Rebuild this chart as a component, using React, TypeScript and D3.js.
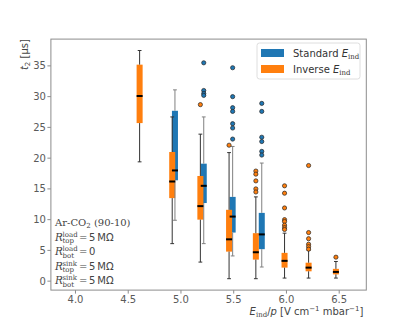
import React from "react";
import * as d3 from "d3";

// ---- data ----
const inversePositions = [4.608, 4.917, 5.184, 5.456, 5.71, 5.982, 6.21, 6.469];
// [whiskerLow, q1, median, q3, whiskerHigh]
const inverseStats = [
  [19.4, 25.7, 30.1, 35.2, 37.5],
  [6.1, 13.5, 16.2, 21.0, 26.7],
  [3.1, 10.0, 12.2, 17.1, 23.9],
  [0.4, 4.8, 6.8, 11.6, 20.9],
  [0.4, 3.5, 4.7, 7.8, 13.7],
  [0.5, 2.2, 3.3, 4.6, 7.8],
  [0.5, 1.6, 2.2, 3.0, 5.0],
  [0.5, 1.1, 1.5, 2.0, 3.2],
];
const inverseFliers = [
  [],
  [],
  [28.7],
  [22.1],
  [17.9, 17.4, 16.3, 15.0, 14.5],
  [15.5, 14.3, 11.9, 10.0, 9.7, 9.1, 8.7, 8.4],
  [18.8, 7.9, 6.9, 6.0, 5.6, 5.2],
  [3.9],
];

const standardPositions = [4.943, 5.216, 5.49, 5.766];
const standardStats = [
  [9.9, 16.4, 18.0, 27.7, 31.1],
  [6.1, 12.7, 15.5, 19.1, 26.7],
  [4.1, 7.9, 10.5, 13.7, 21.9],
  [2.3, 5.2, 7.6, 11.1, 19.2],
];
const standardFliers = [
  [],
  [35.5, 31.0, 30.5, 30.2],
  [34.7, 30.0, 28.2, 27.6, 25.6, 24.9, 23.1],
  [28.9, 27.6, 23.4, 22.7, 21.1, 20.5],
];

const xTicks = [4.0, 4.5, 5.0, 5.5, 6.0, 6.5];
const yTicks = [0, 5, 10, 15, 20, 25, 30, 35];

// ---- layout ----
const W = 407;
const H = 326;
const L = 50.9;
const R = 366.3;
const T = 39.1;
const B = 290.1;
const BOX_W = 0.057;
const CAP_W = 0.036;

const BLUE = "#1f77b4";
const ORANGE = "#ff7f0e";
const SANS = "DejaVu Sans, sans-serif";
const SERIF = "DejaVu Serif, serif";

const x = d3.scaleLinear().domain([3.767, 6.757]).range([L, R]);
const y = d3.scaleLinear().domain([-1.455, 39.355]).range([B, T]);

export default function App() {
  const groups = [
    { pos: standardPositions, stats: standardStats, fl: standardFliers, color: BLUE, line: "#808080" },
    { pos: inversePositions, stats: inverseStats, fl: inverseFliers, color: ORANGE, line: "#333333" },
  ];
  const bw = x(BOX_W) - x(0);
  const cw = x(CAP_W) - x(0);

  const annoLines = [
    { sup: "load", sub: "top", val: "5\u2009M\u03a9" },
    { sup: "load", sub: "bot", val: "0" },
    { sup: "sink", sub: "top", val: "5\u2009M\u03a9" },
    { sup: "sink", sub: "bot", val: "5\u2009M\u03a9" },
  ];

  return (
    <svg width={W} height={H} style={{ position: "absolute", left: 0, top: 0, background: "#fff" }}>
      <rect x={0} y={0} width={W} height={H} fill="#fff" />
      {groups.map((g, gi) =>
        g.pos.map((p, i) => {
          const s = g.stats[i];
          return (
            <rect
              key={`b${gi}-${i}`}
              x={x(p) - bw / 2}
              y={y(s[3])}
              width={bw}
              height={y(s[1]) - y(s[3])}
              fill={g.color}
            />
          );
        })
      )}
      {groups.map((g, gi) =>
        g.pos.map((p, i) => {
          const s = g.stats[i];
          const cx = x(p);
          return (
            <g key={`l${gi}-${i}`}>
              <line x1={cx} x2={cx} y1={y(s[0])} y2={y(s[1])} stroke={g.line} strokeWidth={1} />
              <line x1={cx} x2={cx} y1={y(s[3])} y2={y(s[4])} stroke={g.line} strokeWidth={1} />
              <line x1={cx - cw / 2} x2={cx + cw / 2} y1={y(s[0])} y2={y(s[0])} stroke={g.line} strokeWidth={1} />
              <line x1={cx - cw / 2} x2={cx + cw / 2} y1={y(s[4])} y2={y(s[4])} stroke={g.line} strokeWidth={1} />
              <line x1={cx - bw / 2} x2={cx + bw / 2} y1={y(s[2])} y2={y(s[2])} stroke="#000" strokeWidth={2} />
              {g.fl[i].map((f, k) => (
                <circle key={k} cx={cx} cy={y(f)} r={2.1} fill={g.color} stroke="#222" strokeWidth={0.7} />
              ))}
            </g>
          );
        })
      )}
      <rect x={L} y={T} width={R - L} height={B - T} fill="none" stroke="#8c8c8c" strokeWidth={1} />
      {xTicks.map((t) => (
        <g key={`xt${t}`}>
          <line x1={x(t)} x2={x(t)} y1={B} y2={B + 3.5} stroke="#8c8c8c" />
          <text x={x(t)} y={B + 13} textAnchor="middle" fontFamily={SANS} fontSize={10} fill="#5a5a5a">
            {t.toFixed(1)}
          </text>
        </g>
      ))}
      {yTicks.map((t) => (
        <g key={`yt${t}`}>
          <line x1={L - 3.5} x2={L} y1={y(t)} y2={y(t)} stroke="#8c8c8c" />
          <text x={L - 5} y={y(t) + 3.6} textAnchor="end" fontFamily={SANS} fontSize={10} fill="#5a5a5a">
            {t}
          </text>
        </g>
      ))}
      <text transform={`translate(28,${T}) rotate(-90)`} textAnchor="end" fontFamily={SANS} fontSize={10} fill="#444">
        <tspan fontStyle="italic">t</tspan>
        <tspan fontSize={7} dy={2}>2</tspan>
        <tspan dy={-2}> [µs]</tspan>
      </text>
      <text x={R - 3} y={315} textAnchor="end" fontFamily={SANS} fontSize={10} fill="#444">
        <tspan fontStyle="italic">E</tspan>
        <tspan fontFamily={SERIF} fontSize={7} dy={2}>ind</tspan>
        <tspan dy={-2}>/</tspan>
        <tspan fontStyle="italic">p</tspan>
        <tspan> [V cm</tspan>
        <tspan fontSize={7} dy={-4}>−1</tspan>
        <tspan dy={4}> mbar</tspan>
        <tspan fontSize={7} dy={-4}>−1</tspan>
        <tspan dy={4}>]</tspan>
      </text>
      <rect x={257} y={43} width={103} height={36} rx={2.5} fill="#fff" fillOpacity={0.8} stroke="#d6d6d6" strokeWidth={0.8} />
      {[
        { c: BLUE, label: "Standard ", yy: 49 },
        { c: ORANGE, label: "Inverse ", yy: 65 },
      ].map((e) => (
        <g key={e.label}>
          <rect x={261} y={e.yy} width={23} height={8} fill={e.c} />
          <text x={293} y={e.yy + 8} fontFamily={SANS} fontSize={10} fill="#333">
            {e.label}
            <tspan fontStyle="italic">E</tspan>
            <tspan fontFamily={SERIF} fontSize={7} dy={2}>ind</tspan>
          </text>
        </g>
      ))}
      <text x={55} y={226} fontFamily={SERIF} fontSize={10} fill="#444">
        Ar-CO<tspan fontSize={7} dy={2}>2</tspan>
        <tspan dy={-2}> (90-10)</tspan>
      </text>
      {annoLines.map((a, i) => {
        const by = 240.5 + i * 14.5;
        return (
          <g key={`a${i}`} fill="#444">
            <text x={55} y={by} fontFamily={SERIF} fontStyle="italic" fontSize={10.5}>R</text>
            <text x={62.5} y={by - 4} fontFamily={SERIF} fontSize={7}>{a.sup}</text>
            <text x={62.5} y={by + 2.5} fontFamily={SERIF} fontSize={7}>{a.sub}</text>
            <text x={79} y={by} fontFamily={SERIF} fontSize={10}>=</text>
            <text x={89} y={by} fontFamily={SANS} fontSize={10}>{a.val}</text>
          </g>
        );
      })}
    </svg>
  );
}
